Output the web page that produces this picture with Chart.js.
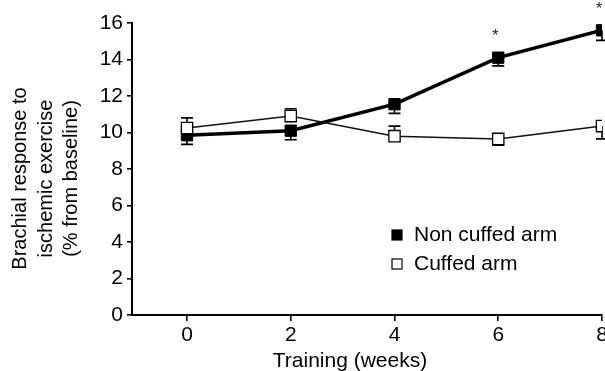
<!DOCTYPE html>
<html>
<head>
<meta charset="utf-8">
<script src="https://cdn.jsdelivr.net/npm/chart.js@4"></script>
<style>
  html, body { margin: 0; padding: 0; background: #fff; overflow: hidden; }
  #wrap { width: 620px; height: 371px; position: relative; }
</style>
</head>
<body>
<div id="wrap"><canvas id="c" width="620" height="371"></canvas></div>
<script>
// Training weeks and tick labels
const weeks = [0, 2, 4, 6, 8];
const xTicks = [0, 2, 4, 6, 8];
const yTicks = [0, 2, 4, 6, 8, 10, 12, 14, 16];

// Axis titles
const xTitle = 'Training (weeks)';
const yTitle = ['Brachial response to', 'ischemic exercise', '(% from baseline)'];

// Brachial response (% from baseline), mean values
const nonCuffed = [9.85, 10.1, 11.55, 14.1, 15.6];
const cuffed = [10.25, 10.9, 9.8, 9.65, 10.35];

// SEM, drawn one-sided (1 = upwards, -1 = downwards)
const nonCuffedErr = [0.5, 0.5, 0.5, 0.45, 0.55];
const nonCuffedErrDir = [-1, -1, -1, -1, -1];
const cuffedErr = [0.55, 0.4, 0.55, 0.35, 0.7];
const cuffedErrDir = [1, 1, 1, -1, -1];

// Significant differences marked with an asterisk
const significant = [false, false, false, true, true];

const FONT = "'Liberation Sans', Arial, Helvetica, sans-serif";

const errorBars = {
  id: 'errorBars',
  beforeDatasetsDraw(chart) {
    const { ctx, scales: { x, y } } = chart;
    ctx.save();
    ctx.strokeStyle = '#000';
    ctx.lineWidth = 1.6;
    chart.data.datasets.forEach((ds) => {
      ds.data.forEach((pt, i) => {
        const px = x.getPixelForValue(pt.x);
        const py = y.getPixelForValue(pt.y);
        const ey = y.getPixelForValue(pt.y + ds.errDir[i] * ds.err[i]);
        ctx.beginPath();
        ctx.moveTo(px, py);
        ctx.lineTo(px, ey);
        ctx.moveTo(px - 6, ey);
        ctx.lineTo(px + 6, ey);
        ctx.stroke();
      });
    });
    ctx.restore();
  }
};

const asterisks = {
  id: 'asterisks',
  afterDatasetsDraw(chart) {
    const { ctx, scales: { x, y } } = chart;
    ctx.save();
    ctx.fillStyle = '#222';
    ctx.font = '16px ' + FONT;
    ctx.textAlign = 'center';
    ctx.textBaseline = 'middle';
    weeks.forEach((w, i) => {
      if (!significant[i]) return;
      ctx.fillText('*', x.getPixelForValue(w) - 3, y.getPixelForValue(nonCuffed[i]) - 21);
    });
    ctx.restore();
  }
};

// Axis titles, placed relative to the plot area
const axisTitles = {
  id: 'axisTitles',
  afterDraw(chart) {
    const { ctx, chartArea: a } = chart;
    ctx.save();
    ctx.fillStyle = '#000';
    ctx.textAlign = 'center';
    ctx.textBaseline = 'middle';
    ctx.font = '21px ' + FONT;
    ctx.fillText(xTitle, (a.left + a.right) / 2 - 17, a.bottom + 46);
    ctx.font = '20px ' + FONT;
    ctx.translate(20.6, (a.top + a.bottom) / 2 + 9.5);
    ctx.rotate(-Math.PI / 2);
    yTitle.forEach((line, i) => ctx.fillText(line, 0, i * 25.5));
    ctx.restore();
  }
};

const innerLegend = {
  id: 'innerLegend',
  afterDraw(chart) {
    const { ctx } = chart;
    ctx.save();
    ctx.font = '21px ' + FONT;
    ctx.textBaseline = 'middle';
    const items = [chart.data.datasets[1], chart.data.datasets[0]];
    items.forEach((ds, i) => {
      const cy = 235 + i * 29;
      const mx = 397;
      ctx.lineWidth = 1.2;
      ctx.strokeStyle = '#000';
      ctx.fillStyle = ds.pointBackgroundColor;
      ctx.fillRect(mx - 5, cy - 5, 10, 10);
      ctx.strokeRect(mx - 5, cy - 5, 10, 10);
      ctx.fillStyle = '#000';
      ctx.fillText(ds.label, 414, cy);
    });
    ctx.restore();
  }
};

new Chart(document.getElementById('c'), {
  type: 'line',
  data: {
    datasets: [
      {
        label: 'Cuffed arm',
        data: weeks.map((w, i) => ({ x: w, y: cuffed[i] })),
        err: cuffedErr,
        errDir: cuffedErrDir,
        borderColor: '#111',
        borderWidth: 1.5,
        pointStyle: 'rect',
        pointRadius: 8,
        pointBorderWidth: 1.3,
        pointBorderColor: '#000',
        pointBackgroundColor: '#fff',
        tension: 0
      },
      {
        label: 'Non cuffed arm',
        data: weeks.map((w, i) => ({ x: w, y: nonCuffed[i] })),
        err: nonCuffedErr,
        errDir: nonCuffedErrDir,
        borderColor: '#000',
        borderWidth: 3.5,
        pointStyle: 'rect',
        pointRadius: 8,
        pointBorderWidth: 1,
        pointBorderColor: '#000',
        pointBackgroundColor: '#000',
        tension: 0
      }
    ]
  },
  options: {
    responsive: false,
    animation: false,
    events: [],
    layout: { padding: { top: 23, right: 18, left: 0, bottom: 0 } },
    plugins: { legend: { display: false }, tooltip: { enabled: false } },
    scales: {
      x: {
        type: 'linear',
        min: -1.06,
        max: 8,
        afterBuildTicks(s) { s.ticks = xTicks.map(v => ({ value: v })); },
        afterFit(s) { s.height = 56; },
        grid: { drawOnChartArea: false, drawTicks: true, tickLength: 6, color: '#000', lineWidth: 1.6 },
        border: { display: true, color: '#000', width: 2 },
        ticks: { color: '#000', font: { family: FONT, size: 21 }, padding: 2, maxRotation: 0 }
      },
      y: {
        min: 0,
        max: 16,
        afterBuildTicks(s) { s.ticks = yTicks.map(v => ({ value: v })); },
        afterFit(s) { s.width = 132; },
        grid: { drawOnChartArea: false, drawTicks: true, tickLength: 5, color: '#000', lineWidth: 1.6 },
        border: { display: true, color: '#000', width: 2 },
        ticks: { color: '#000', font: { family: FONT, size: 21 }, padding: 4 }
      }
    }
  },
  plugins: [errorBars, asterisks, axisTitles, innerLegend]
});
</script>
</body>
</html>
